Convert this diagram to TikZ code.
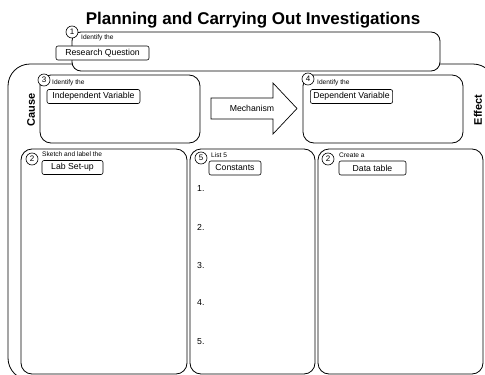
\documentclass[tikz,border=0pt]{standalone}
\usepackage{fontspec}
\setmainfont{Liberation Sans}
\usetikzlibrary{positioning}

\begin{document}
\begin{tikzpicture}[x=1pt, y=-1pt,
        panel/.style={draw, rounded corners=11pt, line width=0.8pt, fill=white, inner sep=0pt},
        tag/.style={draw, rounded corners=2pt, line width=0.6pt, fill=white, minimum height=14pt, inner xsep=3pt, inner ysep=0pt, font=\fontsize{8.7}{10}\selectfont},
        hint/.style={anchor=west, inner sep=0pt, font=\fontsize{6.6}{8}\selectfont},
        num/.style={circle, draw, fill=white, line width=0.6pt, minimum size=12pt, inner sep=0pt, font=\fontsize{8}{9}\selectfont},
        side/.style={rotate=90, font=\bfseries\fontsize{11}{12}\selectfont},
        item/.style={anchor=west, inner sep=0pt, font=\fontsize{8.7}{10}\selectfont}
    ]
        \useasboundingbox (0,0) rectangle (485,375);

        % Title
        \node[font=\bfseries\fontsize{17}{20}\selectfont] (title) at (253,20) {Planning and Carrying Out Investigations};

        % Outer frame
        \node[panel, rounded corners=22pt, minimum width=487pt, minimum height=316pt] (frame) at (251.5,222) {};

        % Research question
        \node[panel, rounded corners=9pt, minimum width=368pt, minimum height=39pt] (rqbox) at (256,51.5) {};
        \node[num] (c1) at (72,32) {1};
        \node[hint] (rqhint) at (81,37.5) {Identify the};
        \node[tag, minimum width=93pt] (rq) at (102.5,53) {Research Question};

        % Cause and effect
        \node[side] (cause) at (31,110) {Cause};
        \node[side] (effect) at (478,110) {Effect};

        % Independent variable
        \node[panel, minimum width=160pt, minimum height=68pt] (ivbox) at (120,109) {};
        \node[num] (c3) at (44,80) {3};
        \node[hint] (ivhint) at (52,83) {Identify the};
        \node[tag, minimum width=93pt] (iv) at (93.5,96.5) {Independent Variable};

        % Mechanism
        \draw[line width=0.7pt] (211,98) -- (273,98) -- (273,83) -- (297,108.5) -- (273,134) -- (273,119) -- (211,119) -- cycle;
        \node[font=\fontsize{8.7}{10}\selectfont] (mech) at (252,108.5) {Mechanism};

        % Dependent variable
        \node[panel, minimum width=160pt, minimum height=68pt] (dvbox) at (383,109) {};
        \node[num] (c4) at (308,79) {4};
        \node[hint] (dvhint) at (317,83) {Identify the};
        \node[tag, minimum width=81pt] (dv) at (351.5,96.5) {Dependent Variable};

        % Lab set-up
        \node[panel, minimum width=166pt, minimum height=225pt] (labbox) at (104,261.5) {};
        \node[num] (c2a) at (32,159) {2};
        \node[hint] (labhint) at (42,154.5) {Sketch and label the};
        \node[tag, minimum width=61pt] (lab) at (72.5,167.5) {Lab Set-up};

        % Constants
        \node[panel, minimum width=125pt, minimum height=225pt] (conbox) at (252.5,261.5) {};
        \node[num] (c5) at (201,158) {5};
        \node[hint] (conhint) at (211,155.5) {List 5};
        \node[tag, minimum width=52pt] (con) at (235,168) {Constants};
        \node[item] (k1) at (197,189) {1.};
        \node[item] (k2) at (197,227) {2.};
        \node[item] (k3) at (197,266) {3.};
        \node[item] (k4) at (197,303) {4.};
        \node[item] (k5) at (197,342) {5.};

        % Data table
        \node[panel, minimum width=165pt, minimum height=225pt] (databox) at (400.5,261.5) {};
        \node[num] (c2b) at (328,159) {2};
        \node[hint] (datahint) at (339,155) {Create a};
        \node[tag, minimum width=67pt] (data) at (372.5,168) {Data table};
    \end{tikzpicture}
\end{document}
